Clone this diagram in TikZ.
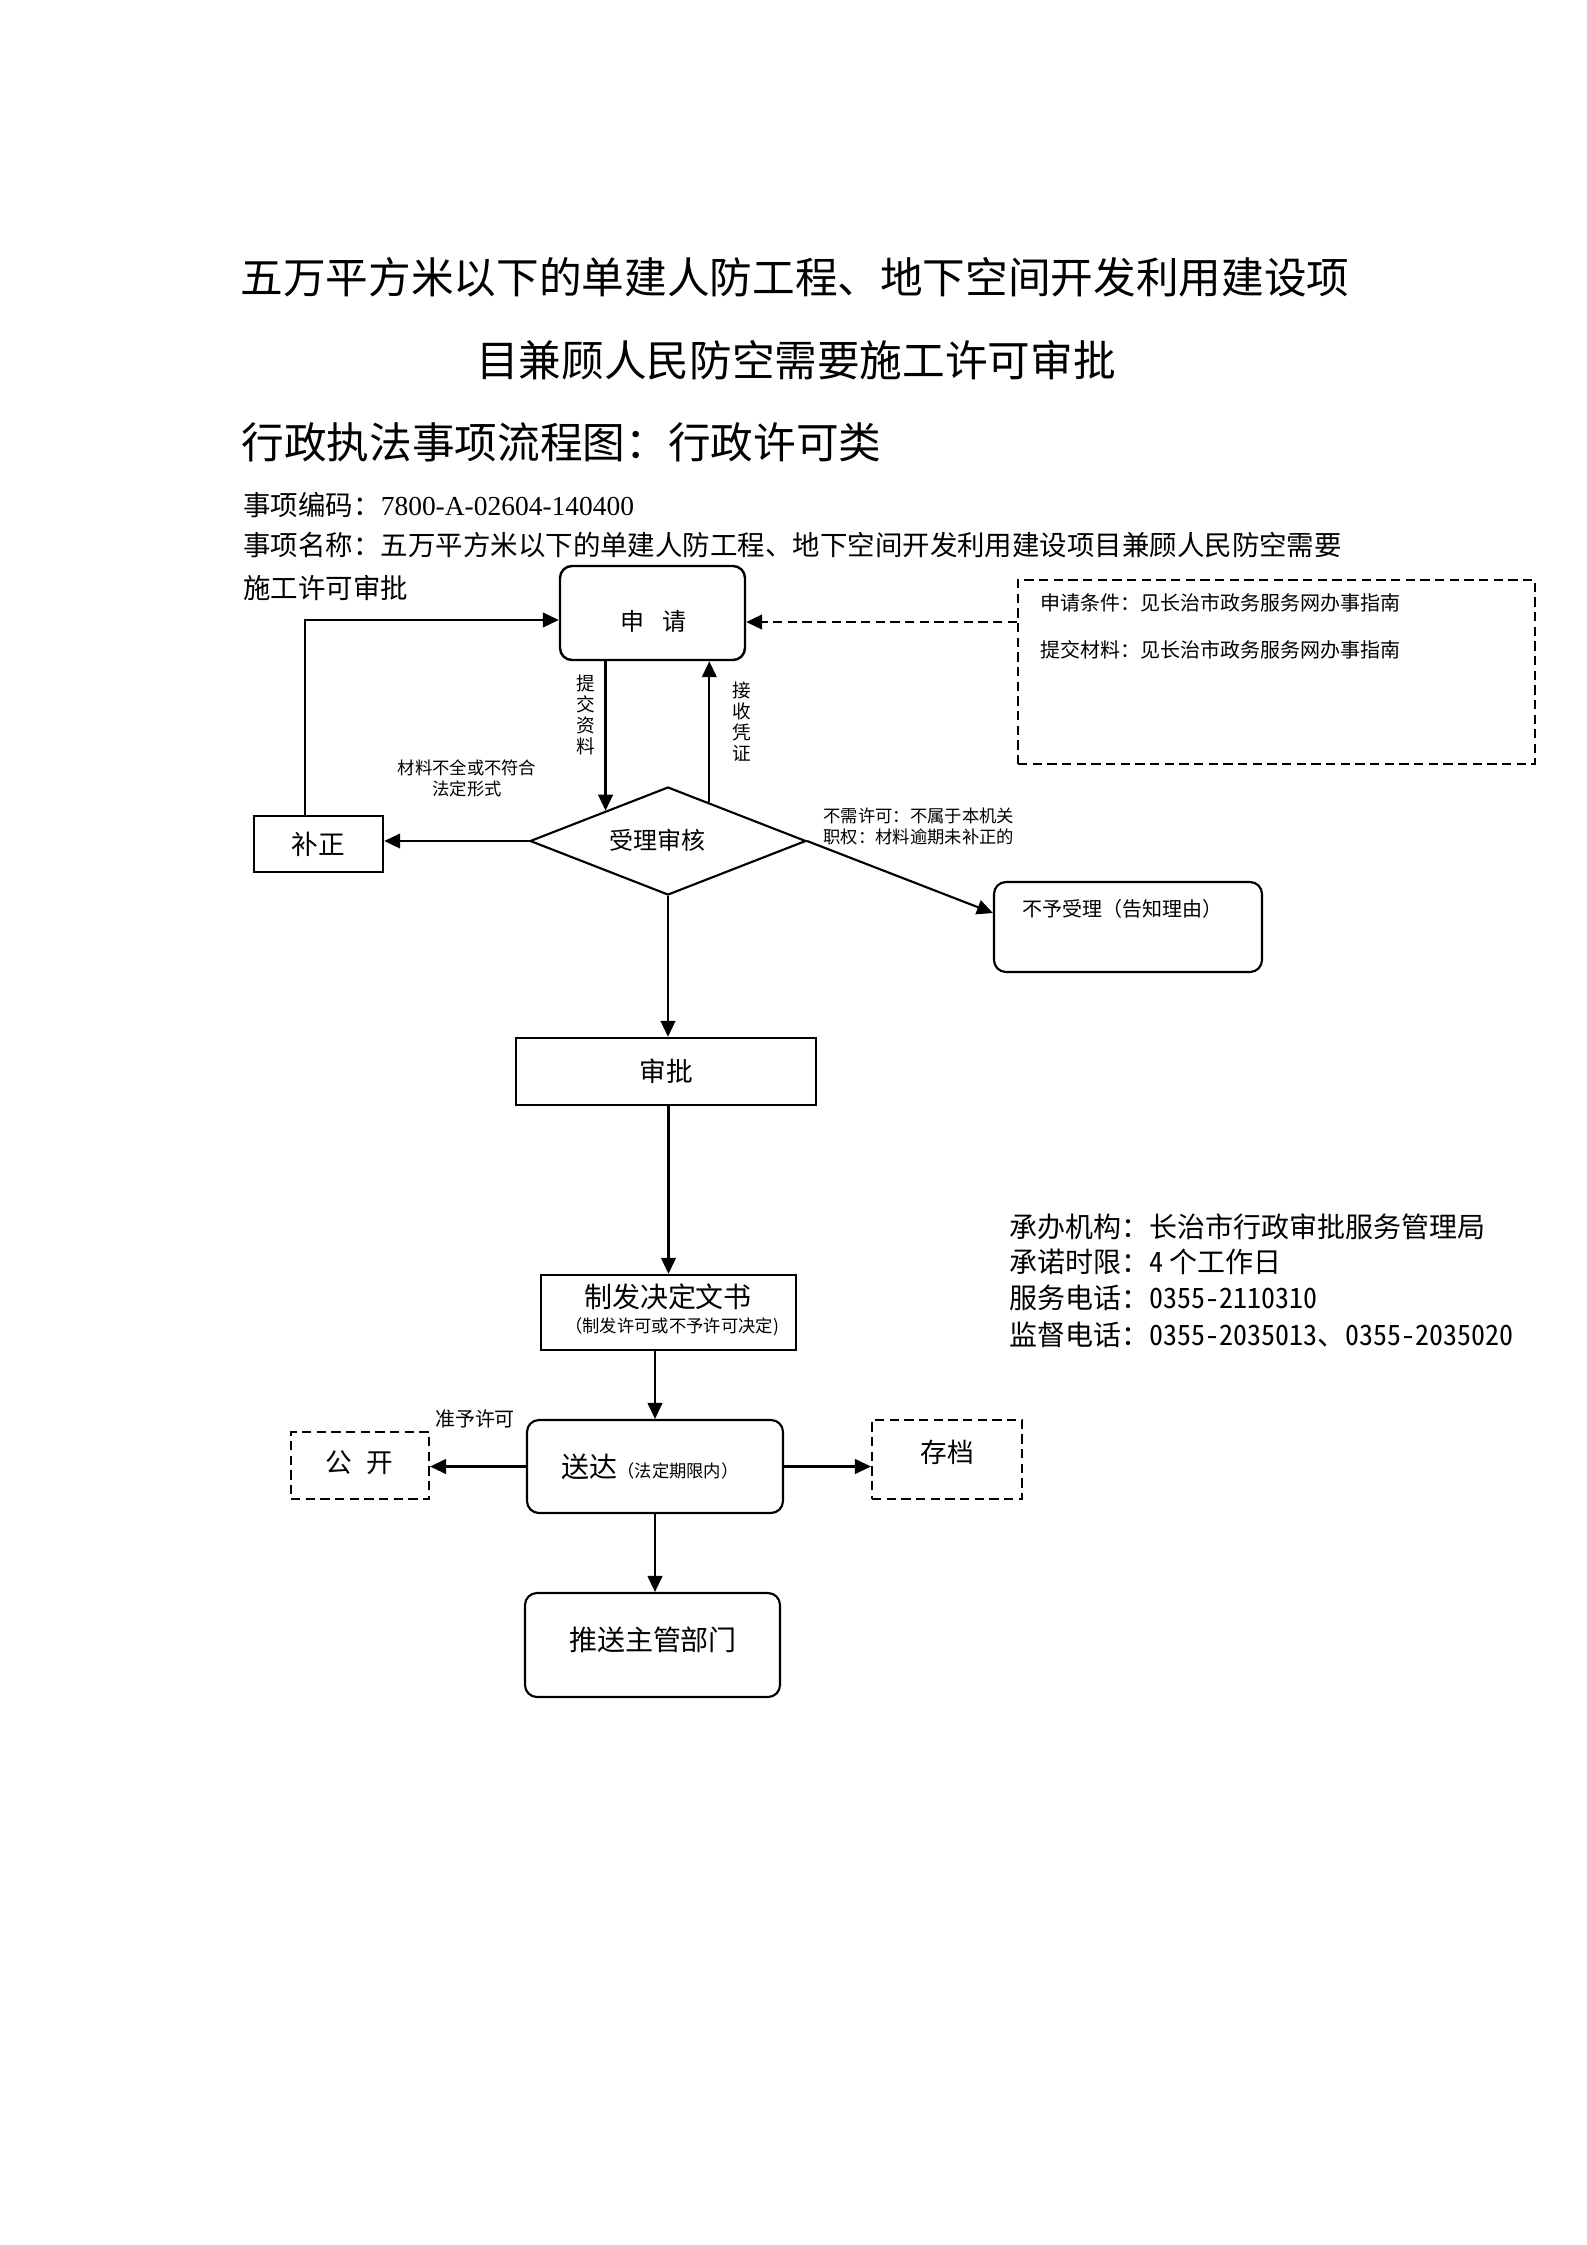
\documentclass[tikz,border=0pt]{standalone}
\usepackage{fontspec}
\setmainfont{Noto Sans CJK SC}
\newfontfamily\tnr{Liberation Serif}
\newfontfamily\infofont[RawFeature=+hwid]{Noto Sans CJK SC}
\usetikzlibrary{arrows.meta,shapes.geometric,calc}
\newcommand\fs[1]{\fontsize{#1}{#1}\selectfont}
\newcommand\pxl[1]{#1*0.3751pt}
\begin{document}
\begin{tikzpicture}[x=0.3751pt, y=-0.3751pt,
  box/.style={draw, line width=0.9pt, inner sep=0pt},
  rbox/.style={box, rounded corners=4.5pt},
  dbox/.style={draw, line width=0.8pt, dash pattern=on 3.5pt off 2pt, inner sep=0pt},
  arr/.style={line width=0.8pt, -{Triangle[length=6pt,width=5.5pt]}},
  darr/.style={arr, dash pattern=on 3.5pt off 2pt},
  txt/.style={inner sep=0pt}]
\useasboundingbox (0,0) rectangle (1587,2245);

% header texts
\node[txt, font=\fs{16}] (t1) at (795,277) {五万平方米以下的单建人防工程、地下空间开发利用建设项};
\node[txt, font=\fs{16}] (t2) at (796,360) {目兼顾人民防空需要施工许可审批};
\node[txt, anchor=west, font=\fs{16}] (t3) at (241,442) {行政执法事项流程图：行政许可类};
\node[txt, anchor=west, font=\fs{10.3}] (t4) at (243,505) {事项编码：{\tnr 7800-A-02604-140400}};
\node[txt, anchor=west, font=\fs{10.3}] (t5) at (243,545) {事项名称：五万平方米以下的单建人防工程、地下空间开发利用建设项目兼顾人民防空需要};
\node[txt, anchor=west, font=\fs{10.3}] (t6) at (243,588) {施工许可审批};

% boxes
\node[rbox, minimum width=\pxl{185}, minimum height=\pxl{94}] (sq) at (652.5,613) {};
\node[txt, font=\fs{9}] (sqt) at (653,621) {申\hspace{0.75em}请};

\node[dbox, minimum width=\pxl{517}, minimum height=\pxl{184}] (info) at (1276.5,672) {};
\node[txt, anchor=west, font=\fs{7.5}] (info1) at (1040,603) {申请条件：见长治市政务服务网办事指南};
\node[txt, anchor=west, font=\fs{7.5}] (info2) at (1040,650) {提交材料：见长治市政务服务网办事指南};

\node[diamond, draw, line width=0.8pt, inner sep=0pt, aspect=2.55,
      minimum width=\pxl{276}, minimum height=\pxl{108}] (sh) at (668,841) {};
\node[txt, font=\fs{9}] (sht) at (657,840) {受理审核};

\node[box, minimum width=\pxl{129}, minimum height=\pxl{56}, font=\fs{10}] (bz) at (318.5,844) {补正};

\node[rbox, line width=0.8pt, minimum width=\pxl{268}, minimum height=\pxl{90}] (ny) at (1128,927) {};
\node[txt, anchor=west, font=\fs{7.5}] (nyt) at (1022,909) {不予受理（告知理由）};

\node[box, minimum width=\pxl{300}, minimum height=\pxl{67}, font=\fs{10}] (sp) at (666,1071.5) {审批};

\node[box, minimum width=\pxl{255}, minimum height=\pxl{75}] (zf) at (668.5,1312.5) {};
\node[txt, font=\fs{10.5}] (zf1) at (668,1297) {制发决定文书};
\node[txt, font=\fs{6.5}] (zf2) at (672,1327) {（制发许可或不予许可决定)};

\node[rbox, line width=0.8pt, minimum width=\pxl{256}, minimum height=\pxl{93}] (sd) at (655,1466.5) {};
\node[txt] (sdt) at (650,1467) {{\fs{10.5}送达}{\fs{6.5}（法定期限内）}};

\node[dbox, minimum width=\pxl{138}, minimum height=\pxl{67}] (gk) at (360,1465.5) {};
\node[txt, font=\fs{10}] (gkt) at (359,1463) {公\hspace{0.55em}开};

\node[dbox, minimum width=\pxl{150}, minimum height=\pxl{79}] (cd) at (947,1459.5) {};
\node[txt, font=\fs{10}] (cdt) at (947,1452) {存档};

\node[rbox, line width=0.8pt, minimum width=\pxl{255}, minimum height=\pxl{104}] (ts) at (652.5,1645) {};
\node[txt, font=\fs{10.5}] (tst) at (653,1640) {推送主管部门};

% labels
\node[txt, font=\fontsize{7}{7.9}\selectfont, align=center] (l1) at (586,715) {提\\交\\资\\料};
\node[txt, font=\fontsize{7}{7.9}\selectfont, align=center] (l2) at (742,722) {接\\收\\凭\\证};
\node[txt, font=\fontsize{6.5}{7.9}\selectfont, align=center] (l3) at (467,778) {材料不全或不符合\\法定形式};
\node[txt, anchor=west, font=\fontsize{6.5}{7.9}\selectfont, align=left] (l4) at (823,826) {不需许可：不属于本机关\\职权：材料逾期未补正的};
\node[txt, font=\fs{7.5}] (l5) at (475,1419) {准予许可};

% info
\node[txt, anchor=west, font=\infofont\fs{10.5}] (m1) at (1009,1227) {承办机构：长治市行政审批服务管理局};
\node[txt, anchor=west, font=\infofont\fs{10.5}] (m2) at (1009,1262) {承诺时限：4\hspace{0.2em}个工作日};
\node[txt, anchor=west, font=\infofont\fs{10.5}] (m3) at (1009,1298) {服务电话：0355-2110310};
\node[txt, anchor=west, font=\infofont\fs{10.5}] (m4) at (1009,1335) {监督电话：0355-2035013、0355-2035020};

% helper coordinates
\coordinate (c1) at (305,620);
\coordinate (c2) at (0,622);
\coordinate (c3) at (0,913);
\coordinate (e1) at ($(sh.west)!0.551!(sh.north)$);
\coordinate (e2) at ($(sh.north)!0.297!(sh.east)$);

% connectors
\draw[arr] (sq.south -| e1) -- (e1);
\draw[arr] (e2) -- (e2 |- sq.south);
\draw[arr] (sh.west) -- (sh.west -| bz.east);
\draw[arr] (c1 |- bz.north) -- (c1) -- (sq.west |- c1);
\draw[darr] (info.west |- c2) -- (sq.east |- c2);
\draw[arr] (sh.east) -- (ny.west |- c3);
\draw[arr] (sh.south) -- (sh.south |- sp.north);
\draw[arr] (zf.north |- sp.south) -- (zf.north);
\draw[arr] (sd.north |- zf.south) -- (sd.north);
\draw[arr] (sd.west) -- (sd.west -| gk.east);
\draw[arr] (sd.east) -- (sd.east -| cd.west);
\draw[arr] (sd.south) -- (sd.south |- ts.north);
\end{tikzpicture}
\end{document}
